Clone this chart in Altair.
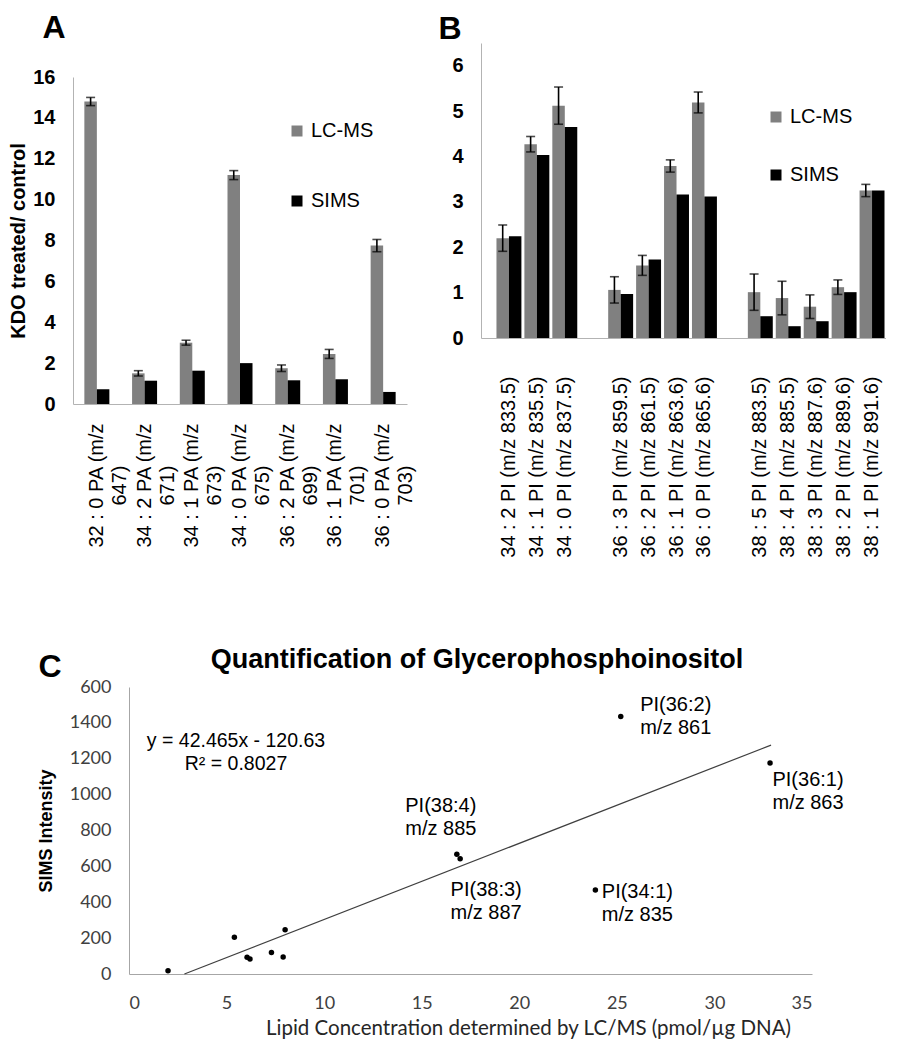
import altair as alt
import pandas as pd

ARIAL = "Liberation Sans, Arial, sans-serif"
CAL = "Lato, Carlito, Calibri, sans-serif"
AXC = "#b3b3b3"

# ---------------- data ----------------
series = ["LC-MS", "SIMS"]
bar_colors = ["#808080", "#000000"]

# Panel A (PA species)
a_categories = ["32 : 0 PA (m/z|647)", "34 : 2 PA (m/z|671)", "34 : 1 PA (m/z|673)",
                "34 : 0 PA (m/z|675)", "36 : 2 PA (m/z|699)", "36 : 1 PA (m/z|701)",
                "36 : 0 PA (m/z|703)"]
a_lcms = [14.8, 1.5, 3.0, 11.2, 1.75, 2.45, 7.75]
a_lcms_err = [0.2, 0.13, 0.12, 0.22, 0.16, 0.22, 0.3]
a_sims = [0.72, 1.14, 1.63, 2.0, 1.16, 1.21, 0.59]
a_ticks = [0, 2, 4, 6, 8, 10, 12, 14, 16]

# Panel B (PI species)
b_categories = ["34 : 2 PI (m/z 833.5)", "34 : 1 PI (m/z 835.5)", "34 : 0 PI (m/z 837.5)",
                "36 : 3 PI (m/z 859.5)", "36 : 2 PI (m/z 861.5)", "36 : 1 PI (m/z 863.6)",
                "36 : 0 PI (m/z 865.6)",
                "38 : 5 PI (m/z 883.5)", "38 : 4 PI (m/z 885.5)", "38 : 3 PI (m/z 887.6)",
                "38 : 2 PI (m/z 889.6)", "38 : 1 PI (m/z 891.6)"]
b_axis_order = b_categories[:3] + [" "] + b_categories[3:7] + ["  "] + b_categories[7:]
b_lcms = [2.20, 4.27, 5.12, 1.06, 1.60, 3.79, 5.19, 1.01, 0.88, 0.69, 1.12, 3.25]
b_lcms_err = [0.29, 0.17, 0.41, 0.29, 0.22, 0.135, 0.23, 0.40, 0.37, 0.26, 0.16, 0.135]
b_sims = [2.24, 4.03, 4.65, 0.97, 1.73, 3.16, 3.12, 0.48, 0.26, 0.37, 1.01, 3.25]
b_ticks = [0, 1, 2, 3, 4, 5, 6]

# Panel C (scatter)
c_x = [2.0, 5.4, 6.05, 6.2, 7.3, 7.9, 8.0, 16.8, 16.97, 23.9, 25.2, 32.85]
c_y = [18, 205, 93, 84, 120, 95, 247, 667, 643, 468, 1436, 1176]
trend_x = [2.84, 32.9]
trend_y = [0, 1276]
c_label_text = ["PI(36:2)|m/z 861", "PI(36:1)|m/z 863", "PI(34:1)|m/z 835",
                "PI(38:4)|m/z 885", "PI(38:3)|m/z 887"]
c_label_point = [10, 11, 9, 7, 8]
c_label_offset = [(55, -11), (38, 17), (42, 2), (-16, -48), (26, 31)]  # label placement (px)
equation_text = "y = 42.465x - 120.63|R² = 0.8027"
c_xticks = [0, 5, 10, 15, 20, 25, 30, 35]
c_yticks = [0, 200, 400, 600, 800, 1000, 1200, 1400, 1600]

color_scale = alt.Scale(domain=series, range=bar_colors)

# layout (pixels): panels are laid out flush on a 2-column grid
A_W, A_H, A_TOP = 334, 361, 34          # panel A plot starts 34px below panel B
B_W, B_H = 405, 295
C_W, C_H, C_SHIFT, C_PLOT_W = 334, 287, 56, 683


def letter(t, x, y):
    return alt.Chart(pd.DataFrame({"t": [t]})).mark_text(
        fontSize=32, fontWeight="bold", font=ARIAL, color="black",
        align="center", baseline="middle"
    ).encode(text="t:N", x=alt.value(x), y=alt.value(y))


def bar_panel(cats, domain, lc, lc_err, sims, ymax, yticks, y_range, x_axis, y_title,
              xo_pad, x_scale_kw, legend_xy, row_pad, width, height, tag, tag_xy):
    df = pd.DataFrame({
        "cat": cats + cats,
        "series": ["LC-MS"] * len(cats) + ["SIMS"] * len(cats),
        "value": lc + sims,
    })
    err = pd.DataFrame({"cat": cats, "series": "LC-MS", "value": lc, "err": lc_err})
    xs = alt.Scale(domain=domain, paddingInner=0, **x_scale_kw)
    xos = alt.Scale(domain=series, paddingInner=0, paddingOuter=xo_pad)
    ys = alt.Scale(domain=[0, ymax], nice=False, range=y_range)
    y_axis = alt.Axis(values=yticks, grid=False, ticks=False, labelFontSize=20,
                      labelFontWeight="bold", labelFont=ARIAL, labelColor="black",
                      labelPadding=18, domainColor=AXC, titleFont=ARIAL, titleFontSize=20,
                      titleFontWeight="bold", titleColor="black", titlePadding=4,
                      title=y_title)
    xe = alt.X("cat:N", scale=xs, axis=x_axis)
    xoe = alt.XOffset("series:N", scale=xos)
    bars = alt.Chart(df).mark_bar().encode(
        x=xe, xOffset=xoe,
        y=alt.Y("value:Q", scale=ys, axis=y_axis),
        color=alt.Color("series:N", scale=color_scale, legend=alt.Legend(
            title=None, orient="none", legendX=legend_xy[0], legendY=legend_xy[1],
            symbolType="square", symbolSize=121, symbolStrokeWidth=0,
            labelFontSize=20, labelFont=ARIAL, labelColor="black",
            rowPadding=row_pad, labelOffset=4, padding=0)),
    )
    eb = alt.Chart(err).transform_calculate(lo="datum.value - datum.err",
                                            hi="datum.value + datum.err")
    rule = eb.mark_rule(color="black", strokeWidth=1.6).encode(
        x=xe, xOffset=xoe, y=alt.Y("lo:Q", scale=ys, axis=y_axis), y2="hi:Q")
    cap_lo = eb.mark_tick(color="black", thickness=1.6, size=9).encode(
        x=xe, xOffset=xoe, y=alt.Y("lo:Q", scale=ys, axis=y_axis))
    cap_hi = eb.mark_tick(color="black", thickness=1.6, size=9).encode(
        x=xe, xOffset=xoe, y=alt.Y("hi:Q", scale=ys, axis=y_axis))
    return alt.layer(bars, rule, cap_lo, cap_hi, letter(tag, *tag_xy)).properties(
        width=width, height=height)


a_x_axis = alt.Axis(title=None, labelAngle=270, labelAlign="center", labelBaseline="middle",
                    labelPadding=81, labelExpr="split(datum.label, '|')", labelLineHeight=23,
                    labelFontSize=20, labelFont=ARIAL, labelColor="black", ticks=False,
                    domainColor=AXC, labelLimit=400, labelOverlap=False)
b_x_axis = alt.Axis(title=None, labelAngle=270, labelAlign="right", labelBaseline="middle",
                    labelPadding=38, labelFontSize=20, labelFont=ARIAL, labelColor="black",
                    ticks=False, domainColor=AXC, labelLimit=400, labelOverlap=False)

A = bar_panel(a_categories, a_categories, a_lcms, a_lcms_err, a_sims, 16, a_ticks,
              [A_H, A_TOP], a_x_axis, "KDO treated/ control", 0.908, {"paddingOuter": 0},
              (214, 78), 50, A_W, A_H, "A", (-19, -15))
B = bar_panel(b_categories, b_axis_order, b_lcms, b_lcms_err, b_sims, 6.5, b_ticks,
              [B_H, 0], b_x_axis, None, 0.12, {"paddingOuter": 0.25, "align": 1},
              (285, 64), 38, B_W, B_H, "B", (-31, -14))

# ---------------- panel C ----------------
cxs = alt.Scale(domain=[0, 35], nice=False, zero=False, range=[C_SHIFT, C_SHIFT + C_PLOT_W])
cys = alt.Scale(domain=[0, 1600], nice=False)
c_df = pd.DataFrame({"x": c_x, "y": c_y})
trend_df = pd.DataFrame({"x": trend_x, "y": trend_y})

c_x_axis = alt.Axis(values=c_xticks, title="Lipid Concentration determined by LC/MS (pmol/µg DNA)",
                    grid=False, ticks=False, labelFont=CAL, labelFontSize=18,
                    labelColor="#404040", labelPadding=20, titleFont=CAL, titleFontSize=20.5,
                    titleFontWeight="normal", titleColor="#262626", titlePadding=6,
                    titleX=455, domainColor="#a6a6a6")
c_y_axis = alt.Axis(values=c_yticks, format="d", offset=-C_SHIFT,
                    labelExpr="datum.value == 1600 ? '600' : datum.label",
                    title="SIMS Intensity", grid=False, ticks=False, labelFont=CAL,
                    labelFontSize=18, labelColor="#404040", labelPadding=18,
                    titleFont=ARIAL, titleFontSize=18, titleFontWeight="bold",
                    titleColor="black", titlePadding=14, domainColor="#a6a6a6")
cx = alt.X("x:Q", scale=cxs, axis=c_x_axis)
cy = alt.Y("y:Q", scale=cys, axis=c_y_axis)

trend = alt.Chart(trend_df).mark_line(color="#3f3f3f", strokeWidth=1.2).encode(x=cx, y=cy)
points = alt.Chart(c_df).mark_circle(size=30, color="black", opacity=1).encode(x=cx, y=cy)

ann_layers = []
for txt, idx, (dx, dy) in zip(c_label_text, c_label_point, c_label_offset):
    ann_df = pd.DataFrame({"x": [c_x[idx]], "y": [c_y[idx]], "t": [txt]})
    ann_layers.append(alt.Chart(ann_df).mark_text(
        font=ARIAL, fontSize=20, color="black", align="center", baseline="middle",
        lineBreak="|", lineHeight=23, dx=dx, dy=dy
    ).encode(x=cx, y=cy, text="t:N"))

equation = alt.Chart(pd.DataFrame({"t": [equation_text]})).mark_text(
    font=ARIAL, fontSize=19.5, color="black", align="center", baseline="middle",
    lineBreak="|", lineHeight=22.5
).encode(text="t:N", x=alt.value(163), y=alt.value(54))

c_title = alt.Chart(pd.DataFrame({"t": ["Quantification of Glycerophosphoinositol"]})).mark_text(
    font=ARIAL, fontSize=27, fontWeight="bold", color="black", align="center", baseline="middle"
).encode(text="t:N", x=alt.value(404), y=alt.value(-27))

C = alt.layer(trend, points, *ann_layers, equation, c_title,
              letter("C", -23, -20.5)).properties(width=C_W, height=C_H)

chart = alt.concat(A, B, C, columns=2, bounds="flush",
                   spacing={"row": 283, "column": 74}).resolve_scale(
    color="independent", xOffset="independent").properties(
    padding={"top": 4, "left": 0, "right": 0, "bottom": 0}).configure(
    font=ARIAL).configure_view(strokeWidth=0, stroke="transparent")

chart.save("out.html", embed_options={"renderer": "svg", "actions": False})
